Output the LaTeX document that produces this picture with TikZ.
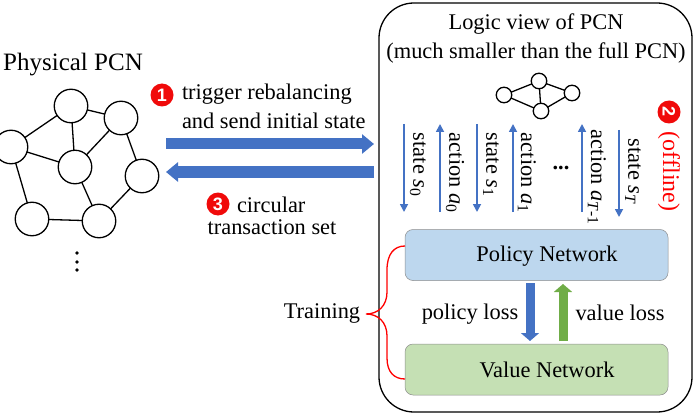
\documentclass[tikz,border=0pt]{standalone}
\usepackage{fontspec}
\setmainfont{Liberation Serif}
\newfontfamily\badgefont{Liberation Sans}
\usetikzlibrary{arrows.meta}
\definecolor{pcnblue}{HTML}{4472C4}
\definecolor{pcngreen}{HTML}{70AD47}
\definecolor{boxblue}{HTML}{BDD7EE}
\definecolor{boxgreen}{HTML}{C5E0B4}
\definecolor{badgered}{HTML}{F00A0A}
\tikzset{
 x=1pt,y=-1pt,
 every node/.style={font=\fontsize{22.4}{26}\selectfont,inner sep=0pt,outer sep=0pt},
 bignode/.style={circle,draw=black,line width=1.3pt,fill=white,minimum size=33.5pt},
 tinynode/.style={circle,draw=black,line width=1.3pt,fill=white,minimum size=15.5pt},
 edge line/.style={draw=black,line width=1.3pt},
 badge/.style={circle,fill=badgered,text=white,minimum size=23pt,font=\badgefont\bfseries\fontsize{18}{18}\selectfont},
 fatarrow/.style={draw=pcnblue,line width=11pt,-{Triangle[length=12pt,width=19pt]}},
 midarrow/.style={line width=9pt,-{Triangle[length=8pt,width=18pt]}},
 thinarrow/.style={draw=pcnblue,line width=1.7pt,-{Triangle[length=8pt,width=8pt]}},
 vlabel/.style={rotate=-90,anchor=west},
 netbox/.style={draw=black!45,line width=0.5pt,rounded corners=8pt,minimum width=263pt,minimum height=51pt},
 plain label/.style={anchor=center},
}
\begin{document}
\begin{tikzpicture}
\useasboundingbox (0,0) rectangle (695,414);
% Physical PCN
\node[plain label,font=\fontsize{25}{30}\selectfont] (phystitle) at (73,65) {Physical PCN};
\node[bignode] (a) at (71,106) {};
\node[bignode] (b) at (121,118) {};
\node[bignode] (c) at (11,147) {};
\node[bignode] (d) at (75,167) {};
\node[bignode] (e) at (142,176) {};
\node[bignode] (f) at (32,219) {};
\node[bignode] (g) at (99,221) {};
\foreach \p/\q in {a/b,a/c,a/d,b/d,b/e,c/d,c/f,d/g,e/g,f/g}
  \draw[edge line] (\p) -- (\q);
\foreach \n/\y in {d1/253,d2/262,d3/270}
  \node[circle,fill=black,minimum size=3.8pt] (\n) at (77,\y) {};
% Logic container
\node[draw=black,line width=1.3pt,rounded corners=35pt,minimum width=313pt,minimum height=409pt] (logic) at (535.5,207.5) {};
\node[plain label] (lt1) at (536,24) {Logic view of PCN};
\node[plain label] (lt2) at (536,53) {(much smaller than the full PCN)};
\node[tinynode] (s1) at (504,95) {};
\node[tinynode] (s2) at (539,81) {};
\node[tinynode] (s3) at (572,93) {};
\node[tinynode] (s4) at (541,111) {};
\foreach \p/\q in {s1/s2,s1/s4,s2/s3,s2/s4,s4/s3}
  \draw[edge line] (\p) -- (\q);
% Thin arrows
\foreach \n/\x/\yy/\yyy in {v0/404/124/212,v1/440/212/124,v2/477/124/212,v3/513/212/124,v4/582/212/124,v5/619/130/217}{
  \coordinate (\n s) at (\x,\yy);
  \coordinate (\n e) at (\x,\yyy);
  \draw[thinarrow] (\n s) -- (\n e);
}
\node[vlabel] (l0) at (418,133) {state \textit{s}\textsubscript{0}};
\node[vlabel] (l1) at (455,133) {action \textit{a}\textsubscript{0}};
\node[vlabel] (l2) at (491,133) {state \textit{s}\textsubscript{1}};
\node[vlabel] (l3) at (527,133) {action \textit{a}\textsubscript{1}};
\node[anchor=base] (ld) at (561,169) {\textbf{...}};
\node[vlabel] (l4) at (597,130) {action \textit{a}\textsubscript{\textit{T}-1}};
\node[vlabel] (l5) at (633,139) {state \textit{s}\textsubscript{\textit{T}}};
\node[vlabel,text=red,font=\fontsize{24}{28}\selectfont] (off) at (669,132) {(offline)};
\node[badge,rotate=-90] (b2) at (669,112) {2};
% Big arrows
\coordinate (r1) at (166,144); \coordinate (r2) at (374,144);
\coordinate (l1c) at (374,172); \coordinate (l2c) at (166,172);
\draw[fatarrow] (r1) -- (r2);
\draw[fatarrow] (l1c) -- (l2c);
\node[badge] (b1) at (162,95) {1};
\node[anchor=west] (t1) at (182,94) {trigger rebalancing};
\node[anchor=west] (t2) at (182,121) {and send initial state};
\node[badge] (b3) at (218,204) {3};
\node[anchor=west] (t3) at (237,205) {circular};
\node[plain label] (t4) at (272,227) {transaction set};
% Networks
\node[netbox,fill=boxblue] (policy) at (536.5,255) {};
\node[netbox,fill=boxgreen] (value) at (536.5,369.5) {};
\node (ptext) at (547,256) {Policy Network};
\node (vtext) at (547,370) {Value Network};
\coordinate (pa1) at (530,283); \coordinate (pa2) at (530,341);
\coordinate (va1) at (563,341); \coordinate (va2) at (563,284);
\draw[midarrow,draw=pcnblue] (pa1) -- (pa2);
\draw[midarrow,draw=pcngreen] (va1) -- (va2);
\node (pl) at (470,314) {policy loss};
\node (vl) at (620,313) {value loss};
\node (train) at (322,313) {Training};
% Brace
\coordinate (bt) at (405,246); \coordinate (bb) at (405,379); \coordinate (tip) at (366,314);
\draw[red,line width=1.3pt] (bt) .. controls (394,246) and (387,254) .. (387,270) -- (387,292) .. controls (387,306) and (378,314) .. (tip)
  .. controls (378,314) and (387,322) .. (387,336) -- (387,358) .. controls (387,372) and (394,379) .. (bb);
\end{tikzpicture}
\end{document}
